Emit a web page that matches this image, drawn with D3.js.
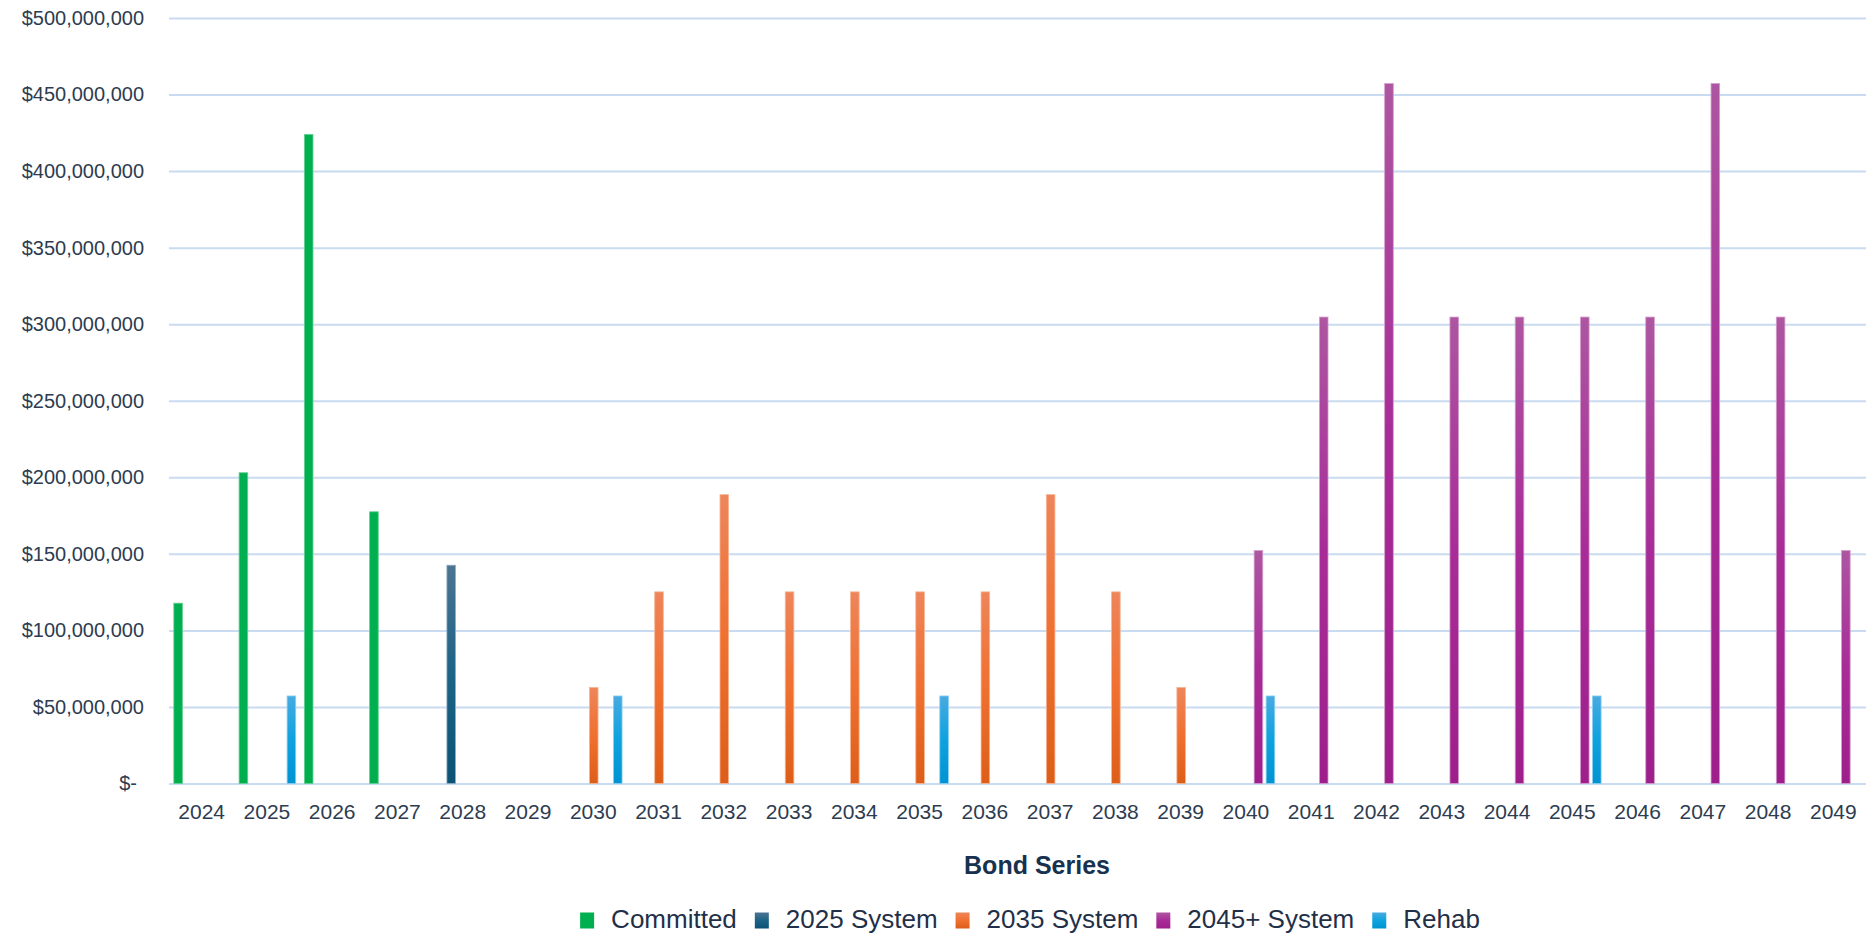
<!DOCTYPE html>
<html>
<head>
<meta charset="utf-8">
<script src="https://cdn.jsdelivr.net/npm/d3@7/dist/d3.min.js"></script>
<style>
  html, body { margin: 0; padding: 0; background: #ffffff; }
  svg { display: block; }
  text { font-family: "Liberation Sans", Arial, sans-serif; }
</style>
</head>
<body>
<svg id="chart" width="1866" height="933"></svg>
<script>
// Bond issuance by series year
const categories = ["2024","2025","2026","2027","2028","2029","2030","2031","2032","2033","2034","2035","2036",
                    "2037","2038","2039","2040","2041","2042","2043","2044","2045","2046","2047","2048","2049"];

const seriesNames = ["Committed", "2025 System", "2035 System", "2045+ System", "Rehab"];

// values in dollars, one per bond series year
const committed   = [118100000, 203300000, 424200000, 177800000, 0, 0, 0, 0, 0, 0, 0, 0, 0,
                     0, 0, 0, 0, 0, 0, 0, 0, 0, 0, 0, 0, 0];
const system2025  = [0, 0, 0, 0, 142900000, 0, 0, 0, 0, 0, 0, 0, 0,
                     0, 0, 0, 0, 0, 0, 0, 0, 0, 0, 0, 0, 0];
const system2035  = [0, 0, 0, 0, 0, 0, 63000000, 125500000, 189000000, 125500000, 125500000, 125500000, 125500000,
                     189000000, 125500000, 63000000, 0, 0, 0, 0, 0, 0, 0, 0, 0, 0];
const system2045  = [0, 0, 0, 0, 0, 0, 0, 0, 0, 0, 0, 0, 0,
                     0, 0, 0, 152500000, 305000000, 457500000, 305000000, 305000000, 305000000, 305000000,
                     457500000, 305000000, 152500000];
const rehab       = [0, 57500000, 0, 0, 0, 0, 57500000, 0, 0, 0, 0, 57500000, 0,
                     0, 0, 0, 57500000, 0, 0, 0, 0, 57500000, 0, 0, 0, 0];

const yTicks = [0, 50e6, 100e6, 150e6, 200e6, 250e6, 300e6, 350e6, 400e6, 450e6, 500e6];

const seriesValues = [committed, system2025, system2035, system2045, rehab];

// gradient stops (top, middle, bottom) and a light edge for each series
const palette = [
  { top: "#00B050", mid: "#00B050", bottom: "#00AE4E", edge: "#5FD08E" },
  { top: "#4C7492", mid: "#1D6385", bottom: "#0B5274", edge: "#8FAFC6" },
  { top: "#EE855A", mid: "#F07030", bottom: "#DD5E18", edge: "#F6B594" },
  { top: "#AD56A1", mid: "#A82C98", bottom: "#9E1F8C", edge: "#D49CCB" },
  { top: "#47ABE1", mid: "#0EA2DF", bottom: "#0093D2", edge: "#8ACFF0" }
];

const svg = d3.select("#chart");
const margin = { left: 169, right: 1866, top: 18, bottom: 783.5 };

const x0 = d3.scaleBand().domain(categories).range([margin.left, margin.right]).padding(0);
const x1 = d3.scaleBand().domain(seriesNames).range([-30, 30]).paddingInner(0.2).paddingOuter(0.1);
const y = d3.scaleLinear().domain([0, 500e6]).range([margin.bottom, margin.top]);

// gradients
const defs = svg.append("defs");
palette.forEach((p, i) => {
  const g = defs.append("linearGradient")
    .attr("id", "grad" + i)
    .attr("x1", 0).attr("y1", 0).attr("x2", 0).attr("y2", 1);
  g.append("stop").attr("offset", "0%").attr("stop-color", p.top);
  g.append("stop").attr("offset", "50%").attr("stop-color", p.mid);
  g.append("stop").attr("offset", "100%").attr("stop-color", p.bottom);
});

const textColor = "#2D3C50";
const gridColor = "#C9DBF0";

// y axis with gridlines
const fmt = d3.format(",");
const yAxis = d3.axisLeft(y)
  .tickValues(yTicks)
  .tickSizeInner(-(margin.right - margin.left))
  .tickSizeOuter(0)
  .tickPadding(25)
  .tickFormat(d => d === 0 ? "$-" : "$" + fmt(d));

const gy = svg.append("g")
  .attr("transform", `translate(${margin.left},0)`)
  .call(yAxis);
gy.select(".domain").remove();
gy.selectAll(".tick line").attr("stroke", gridColor).attr("stroke-width", 2);
gy.selectAll(".tick text")
  .attr("fill", textColor)
  .style("font-size", "20px")
  .attr("dx", d => d === 0 ? -7 : 0);

// x axis labels
const xAxis = d3.axisBottom(x0).tickSize(0).tickPadding(21);
const gx = svg.append("g")
  .attr("transform", `translate(0,${margin.bottom})`)
  .call(xAxis);
gx.select(".domain").remove();
gx.selectAll(".tick text").attr("fill", textColor).style("font-size", "21px");

// bars
const barData = [];
seriesNames.forEach((name, si) => {
  seriesValues[si].forEach((v, ci) => {
    if (v > 0) barData.push({ series: name, si: si, cat: categories[ci], value: v });
  });
});

const bw = x1.bandwidth();
svg.append("g")
  .selectAll("rect")
  .data(barData)
  .join("rect")
  .attr("x", d => x0(d.cat) + x0.bandwidth() / 2 + 0.5 + x1(d.series) + 0.5)
  .attr("y", d => y(d.value) + 0.5)
  .attr("width", bw - 1)
  .attr("height", d => y(0) - y(d.value) - 0.5)
  .attr("fill", d => `url(#grad${d.si})`)
  .attr("stroke", d => palette[d.si].edge)
  .attr("stroke-width", 0.8);

// axis title
svg.append("text")
  .attr("x", 1037)
  .attr("y", 874)
  .attr("text-anchor", "middle")
  .attr("fill", "#17324F")
  .style("font-size", "25px")
  .style("font-weight", "bold")
  .text("Bond Series");

// legend
const legend = svg.append("g");
const items = legend.selectAll("g.item")
  .data(seriesNames)
  .join("g")
  .attr("class", "item");

items.append("rect")
  .attr("x", 0).attr("y", 912.5)
  .attr("width", 14).attr("height", 16)
  .attr("fill", (d, i) => `url(#grad${i})`);

items.append("text")
  .attr("x", 31).attr("y", 928.3)
  .attr("fill", "#1F3048")
  .style("font-size", "26px")
  .text(d => d);

let cursor = 0;
const offsets = [];
items.each(function () {
  offsets.push(cursor);
  const w = d3.select(this).select("text").node().getComputedTextLength();
  cursor += 31 + w + 18;
});
const totalW = cursor - 18;
const startX = 1030 - totalW / 2;
items.attr("transform", (d, i) => `translate(${startX + offsets[i]},0)`);
</script>
</body>
</html>
